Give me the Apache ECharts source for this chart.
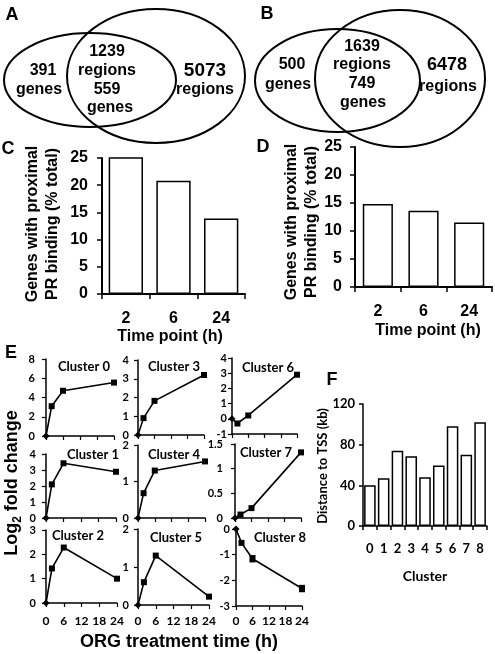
<!DOCTYPE html>
<html><head><meta charset="utf-8">
<script src="https://cdn.jsdelivr.net/npm/echarts@6/dist/echarts.min.js"></script>
<style>html,body{margin:0;padding:0;background:#fff}#c{width:495px;height:654px}</style>
</head><body><div id="c"></div>
<script>
// ---------- data ----------
const vennALeft = ['391', 'genes'];
const vennAOverlap = ['1239', 'regions', '559', 'genes'];
const vennARight = ['5073', 'regions'];
const vennBLeft = ['500', 'genes'];
const vennBOverlap = ['1639', 'regions', '749', 'genes'];
const vennBRight = ['6478', 'regions'];

const timePoints = ['2', '6', '24'];
const pctC = [25.3, 20.8, 13.9];
const pctD = [14.8, 13.6, 11.5];

const hours = [0, 2, 6, 24];
const clusterNames = ['Cluster 0','Cluster 1','Cluster 2','Cluster 3','Cluster 4','Cluster 5','Cluster 6','Cluster 7','Cluster 8'];
const cluster0 = [0, 3.1, 4.7, 5.55];
const cluster1 = [0, 2.1, 3.42, 2.89];
const cluster2 = [0, 1.42, 2.28, 1.0];
const cluster3 = [0, 0.9, 1.82, 3.2];
const cluster4 = [0, 0.68, 1.3, 1.55];
const cluster5 = [0, 0.6, 1.3, 0.22];
const cluster6 = [0, -0.31, 0.22, 2.9];
const cluster7 = [0, 0.07, 0.2, 1.33];
const cluster8 = [0, -0.54, -1.16, -2.32];
const cluster8Err = [0, 0, 0.12, 0.12];
const clusterYMin = [0, 0, 0, 0, 0, 0, -1, 0, -3];
const clusterYMax = [8, 4, 3, 4, 2, 2, 4, 1.5, 0];
const clusterYStep = [2, 1, 1, 1, 1, 1, 1, 0.5, 1];

const distCats = ['0','1','2','3','4','5','6','7','8'];
const distKb = [40, 47, 74, 68.5, 48, 59.5, 98, 70, 102];

// ---------- layout ----------
const clusters = [cluster0, cluster1, cluster2, cluster3, cluster4, cluster5, cluster6, cluster7, cluster8];
const cGrids = [
  {left:46, top:359, width:68, height:77},
  {left:46, top:454, width:70, height:64},
  {left:46, top:530, width:71, height:73},
  {left:138, top:360, width:66, height:75},
  {left:138, top:445, width:67, height:73},
  {left:138, top:529, width:71, height:76},
  {left:232, top:358, width:65, height:76},
  {left:235, top:444, width:66, height:74},
  {left:236, top:529, width:66, height:77}
];
const cLabelPos = [[84,367],[93,455],[78,536],[174,367],[174,455],[176,538],[268,368],[266,453],[280,538]];
const cLabelMargin = [11, 10, 10, 9, 9, 9, 5, 12, 6];

const ARIAL = '"Liberation Sans", Arial, sans-serif';
const LATO = 'Lato, "Open Sans", sans-serif';
const black = '#000';

const grids = [], xAxes = [], yAxes = [], series = [];

clusters.forEach((vals, i) => {
  grids.push(Object.assign({}, cGrids[i]));
  const bottomRow = (i % 3 === 2);
  xAxes.push({
    gridIndex: i, type: 'value', min: 0, max: 24, interval: 6,
    axisLine: {show: true, onZero: false, lineStyle: {color: black, width: 1.5}},
    axisTick: {show: true, length: 4, lineStyle: {color: black, width: 1.2}},
    axisLabel: {show: bottomRow, color: black, fontFamily: LATO, fontWeight: 'bold', fontSize: 12, margin: i === 2 ? 12 : (i === 5 ? 10 : 9)},
    splitLine: {show: false}
  });
  yAxes.push({
    gridIndex: i, type: 'value', min: clusterYMin[i], max: clusterYMax[i], interval: clusterYStep[i],
    axisLine: {show: true, onZero: false, lineStyle: {color: black, width: 1.5}},
    axisTick: {show: true, length: 4, lineStyle: {color: black, width: 1.2}},
    axisLabel: {color: black, fontFamily: LATO, fontWeight: 'bold', fontSize: 11, margin: cLabelMargin[i]},
    splitLine: {show: false}
  });
  series.push({
    type: 'line', xAxisIndex: i, yAxisIndex: i,
    data: hours.map((h, j) => ({value: [h, vals[j]], symbol: j === 0 ? 'diamond' : 'rect', symbolSize: j === 0 ? 7 : 6})),
    lineStyle: {color: black, width: 1.6},
    itemStyle: {color: black},
    animation: false, z: 3
  });
});

// error bars for cluster 8
series.push({
  type: 'custom', xAxisIndex: 8, yAxisIndex: 8,
  data: hours.map((h, j) => [h, cluster8[j], cluster8Err[j]]),
  renderItem: function (params, api) {
    const x = api.value(0), y = api.value(1), e = api.value(2);
    if (!e) return null;
    const p1 = api.coord([x, y + e]), p2 = api.coord([x, y - e]);
    return {type: 'group', children: [
      {type: 'line', shape: {x1: p1[0], y1: p1[1], x2: p2[0], y2: p2[1]}, style: {stroke: black, lineWidth: 1.2}},
      {type: 'line', shape: {x1: p1[0]-3, y1: p1[1], x2: p1[0]+3, y2: p1[1]}, style: {stroke: black, lineWidth: 1.2}},
      {type: 'line', shape: {x1: p2[0]-3, y1: p2[1], x2: p2[0]+3, y2: p2[1]}, style: {stroke: black, lineWidth: 1.2}}
    ]};
  },
  animation: false, z: 2
});

// panels C and D
function barPanel(gi, grid, vals, labelMargin, gap) {
  grids.push(grid);
  xAxes.push({
    gridIndex: gi, type: 'category', data: timePoints,
    axisLine: {lineStyle: {color: black, width: 2}},
    axisTick: {show: true, length: 5, lineStyle: {color: black, width: 1.5}},
    axisLabel: {color: black, fontFamily: ARIAL, fontWeight: 'bold', fontSize: 16, margin: 17}
  });
  yAxes.push({
    gridIndex: gi, type: 'value', min: 0, max: 25, interval: 5,
    axisLine: {show: true, lineStyle: {color: black, width: 2}},
    axisTick: {show: true, length: 5, lineStyle: {color: black, width: 1.5}},
    axisLabel: {color: black, fontFamily: ARIAL, fontWeight: 'bold', fontSize: 16, margin: labelMargin},
    splitLine: {show: false}
  });
  series.push({
    type: 'bar', xAxisIndex: gi, yAxisIndex: gi, data: vals, barCategoryGap: gap,
    itemStyle: {color: '#fff', borderColor: black, borderWidth: 1.5},
    animation: false
  });
}
barPanel(9, {left: 102, top: 158, width: 143, height: 136}, pctC, 14, '28%');
barPanel(10, {left: 355, top: 147, width: 137, height: 140}, pctD, 13, '34%');

// panel F
grids.push({left: 363, top: 404, width: 124, height: 122});
xAxes.push({
  gridIndex: 11, type: 'category', data: distCats,
  axisLine: {lineStyle: {color: black, width: 1.5}},
  axisTick: {show: true, length: 4, lineStyle: {color: black, width: 1.5}},
  axisLabel: {color: black, fontFamily: LATO, fontWeight: 'bold', fontSize: 13, margin: 16}
});
yAxes.push({
  gridIndex: 11, type: 'value', min: 0, max: 120, interval: 40,
  axisLine: {show: true, lineStyle: {color: black, width: 1.5}},
  axisTick: {show: true, length: 4, lineStyle: {color: black, width: 1.5}},
  axisLabel: {color: black, fontFamily: LATO, fontWeight: 'bold', fontSize: 13, margin: 8},
  splitLine: {show: false}
});
series.push({
  type: 'bar', xAxisIndex: 11, yAxisIndex: 11, data: distKb, barCategoryGap: '16%',
  itemStyle: {color: '#fff', borderColor: black, borderWidth: 1.5},
  animation: false
});

// ---------- graphics ----------
const g = [];
function txt(x, y, text, size, extra) {
  g.push({type: 'text', x: x, y: y, z: 10, style: Object.assign({
    text: text, fontSize: size, fontWeight: 'bold', fontFamily: ARIAL, fill: black,
    align: 'center', verticalAlign: 'middle'}, extra || {})});
}
function ell(cx, cy, rx, ry) {
  g.push({type: 'ellipse', shape: {cx: cx, cy: cy, rx: rx, ry: ry}, z: 5,
    style: {fill: 'transparent', stroke: black, lineWidth: 2}});
}
// Venn A
ell(90, 80, 86, 47);
ell(156, 76, 89, 67);
txt(43, 71, vennALeft[0], 16); txt(39, 90, vennALeft[1], 16);
[52, 71, 90, 108].forEach((y, k) => txt(k === 3 ? 110 : 107, y, vennAOverlap[k], 16));
txt(205, 71, vennARight[0], 19); txt(205, 90, vennARight[1], 16);
// Venn B
ell(337.5, 80.5, 82.5, 51.5);
ell(400, 78.5, 85, 68.5);
txt(292, 65, vennBLeft[0], 16); txt(288, 85, vennBLeft[1], 16);
[47, 65, 84, 103].forEach((y, k) => txt(k === 3 ? 363 : 362, y, vennBOverlap[k], 16));
txt(447, 65, vennBRight[0], 18); txt(448, 87, vennBRight[1], 16);

// panel letters
[['A', 12, 15], ['B', 267, 14], ['C', 8, 149], ['D', 263, 147], ['E', 11, 353], ['F', 332, 380]]
  .forEach(l => txt(l[1], l[2], l[0], 18));

// axis titles C / D
txt(43, 224, 'Genes with proximal\nPR binding (% total)', 16, {lineHeight: 20});
g[g.length - 1].rotation = Math.PI / 2;
txt(302, 222, 'Genes with proximal\nPR binding (% total)', 16, {lineHeight: 20});
g[g.length - 1].rotation = Math.PI / 2;
txt(170, 337, 'Time point (h)', 16);
txt(428, 331, 'Time point (h)', 16);

// panel E titles
clusterNames.forEach((n, i) => txt(cLabelPos[i][0], cLabelPos[i][1], n, 13, {fontFamily: LATO}));
txt(179, 642, 'ORG treatment time (h)', 18);
g.push({type: 'text', x: 12, y: 483, rotation: Math.PI / 2, z: 10, style: {
  text: '{a|Log}{s|2}{a| fold change}', align: 'center', verticalAlign: 'middle', fill: black,
  rich: {
    a: {fontSize: 18, fontWeight: 'bold', fontFamily: ARIAL, fill: black, lineHeight: 24, verticalAlign: 'middle'},
    s: {fontSize: 12, fontWeight: 'bold', fontFamily: ARIAL, fill: black, lineHeight: 24, verticalAlign: 'bottom', padding: [0, 0, 0, 0]}
  }}});

// panel F titles
txt(425, 576, 'Cluster', 14, {fontFamily: LATO});
txt(323, 466, 'Distance to TSS (kb)', 13, {fontFamily: LATO});
g[g.length - 1].rotation = Math.PI / 2;

const chart = echarts.init(document.getElementById('c'), null, {renderer: 'canvas'});
chart.setOption({
  animation: false,
  backgroundColor: '#fff',
  grid: grids, xAxis: xAxes, yAxis: yAxes, series: series,
  graphic: {elements: g}
});
</script></body></html>
